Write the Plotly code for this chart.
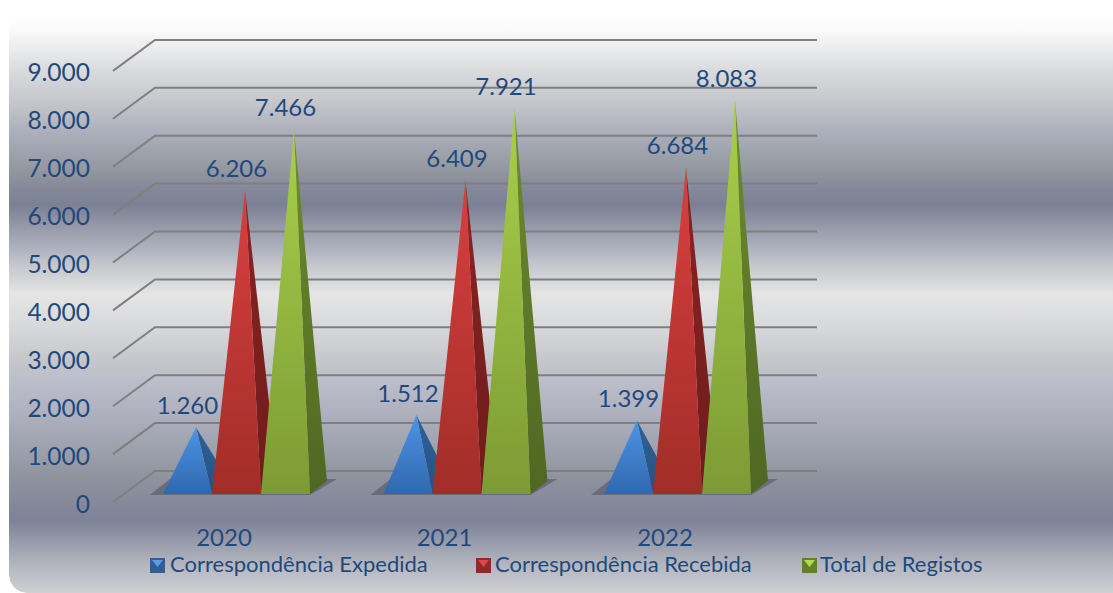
import plotly.graph_objects as go

# ---- data ----
years = ["2020", "2021", "2022"]
expedida = [1260, 1512, 1399]
recebida = [6206, 6409, 6684]
total = [7466, 7921, 8083]
series_names = ["Correspondência Expedida", "Correspondência Recebida", "Total de Registos"]
y_ticks = [0, 1000, 2000, 3000, 4000, 5000, 6000, 7000, 8000, 9000]

# ---- layout / projection constants (pixels) ----
W, H = 1113, 593
PX_CAT = 220.5      # px per category
PX_VAL = 0.0479     # px per unit of value
X0 = 236.5          # px of first group's centre
Y0 = 471            # px of value 0 on the back wall
BAR_W = 49
DEPTH_X, DEPTH_Y = 17, 13
BASE_Y = 494
FONT = "Lato"
TXT = "#1f497d"

def dx(p): return p / PX_CAT
def dv(p): return p / PX_VAL
def cx(p): return (p - X0) / PX_CAT   # pixel x -> axis value
def vy(p): return (Y0 - p) / PX_VAL   # pixel y -> axis value

styles = [
    dict(top="#4d94e6", bottom="#3068ae", side_top="#2f6299", side_bottom="#27507f", sw="#2f5f96", sw_l="#5c9ce0"),
    dict(top="#d8403f", bottom="#a22d28", side_top="#8a2422", side_bottom="#6e1c1b", sw="#8e2a28", sw_l="#e0474a"),
    dict(top="#a9d04a", bottom="#7c9b35", side_top="#6f8c2d", side_bottom="#4e6723", sw="#64802c", sw_l="#b4d84f"),
]

fig = go.Figure()

def poly(xs, ys, fill=None, grad=None, **kw):
    t = dict(x=xs + xs[:1], y=ys + ys[:1], mode="lines", fill="toself", line=dict(width=0),
             hoverinfo="skip", showlegend=False)
    if grad:
        lo, hi = min(ys), max(ys)
        t["fillgradient"] = dict(type="vertical", start=lo, stop=hi, colorscale=[[0, grad[0]], [1, grad[1]]])
    else:
        t["fillcolor"] = fill
    t.update(kw)
    fig.add_trace(go.Scatter(**t))

# ---- background: rounded panel with a double vertical gradient ----
bg_stops = [(593, "#d0d0d3"), (560, "#aeb1bb"), (521, "#7d8297"), (476, "#90949f"),
            (426, "#a9acb8"), (380, "#bcbfca"), (360, "#c6c7cb"), (330, "#d6d7da"), (294, "#e5e5e5"),
            (280, "#d5d6d9"), (260, "#bfc1c8"), (250, "#b0b3c0"), (230, "#9a9dab"),
            (205, "#7b8094"), (190, "#838899"), (170, "#93979f"), (130, "#aeb1bd"), (100, "#c7c8cc"),
            (70, "#dadbdd"), (30, "#fafafa"), (15, "#ffffff")]
R = 18
arc_a = [1.0, 0.92, 0.71, 0.38, 0.0]
arc_b = [0.0, 0.38, 0.71, 0.92, 1.0]
left, right, top, bot = 9, 1120, 15, 593
path = [(left + R * (1 - a), top + R * (1 - b)) for a, b in zip(arc_a, arc_b)]
path += [(right, top), (right, bot)]
path += [(left + R * (1 - a), bot - R * (1 - b)) for a, b in zip(arc_b, arc_a)]
ys_bg = [vy(p[1]) for p in path]
fig.add_trace(go.Scatter(
    x=[cx(p[0]) for p in path] + [cx(path[0][0])], y=ys_bg + ys_bg[:1],
    mode="lines", fill="toself", line=dict(width=0), hoverinfo="skip", showlegend=False,
    fillgradient=dict(type="vertical", start=vy(593), stop=vy(15),
                      colorscale=[[(593 - p) / 578, c] for p, c in bg_stops]),
))

# ---- gridlines on the back wall and side wall ----
gx, gy = [], []
for v in y_ticks:
    gx += [cx(113), cx(155), cx(817), None]
    gy += [v - dv(31), v, v, None]
fig.add_trace(go.Scatter(x=gx, y=gy, mode="lines", line=dict(color="#7f7f80", width=2),
                         hoverinfo="skip", showlegend=False))

# ---- floor shadow ----
for c in range(len(years)):
    xl = c - dx(BAR_W * 1.5)
    xr = c + dx(BAR_W * 1.5)
    poly([xl - dx(13), xr, xr + dx(27), xl + dx(7)],
         [vy(BASE_Y + 1), vy(BASE_Y + 1), vy(479), vy(479)], fill="rgba(60,60,72,0.42)")

# ---- pyramids ----
all_series = [expedida, recebida, total]
for s, values in enumerate(all_series):
    st = styles[s]
    for c, v in enumerate(values):
        xc = c + (s - 1) * dx(BAR_W)
        xl, xr = xc - dx(BAR_W / 2), xc + dx(BAR_W / 2)
        ya = v + vy(BASE_Y - DEPTH_Y / 2)
        xa = xc + dx(DEPTH_X / 2)
        yb = vy(BASE_Y)
        poly([xr, xr + dx(DEPTH_X), xa], [yb, yb + dv(DEPTH_Y), ya],
             grad=(st["side_bottom"], st["side_top"]))
        poly([xl, xr, xa], [yb, yb, ya], grad=(st["bottom"], st["top"]))

# ---- data labels ----
lx, ly, lt = [], [], []
for s, values in enumerate(all_series):
    for c, v in enumerate(values):
        lx.append(c + (s - 1) * dx(BAR_W))
        ly.append(v + vy(BASE_Y - DEPTH_Y / 2) + dv(19.5))
        lt.append(f"{v:,}".replace(",", "."))
fig.add_trace(go.Scatter(x=lx, y=ly, text=lt, mode="text", textposition="middle center",
                         textfont=dict(family=FONT, size=24, color=TXT),
                         hoverinfo="skip", showlegend=False))

# ---- legend: native entries, bevelled swatches ----
swatch_x = [150, 476, 802]
for s, name in enumerate(series_names):
    st = styles[s]
    fig.add_trace(go.Scatter(x=[None], y=[None], mode="markers", name=name,
                             marker=dict(symbol="square", size=14, color="rgba(0,0,0,0)")))
    a, b, t_, u = swatch_x[s], swatch_x[s] + 15, 558, 573
    poly([cx(a), cx(b), cx(b), cx(a)], [vy(u), vy(u), vy(t_), vy(t_)], fill=st["sw"])
    poly([cx(a + 2), cx(b - 2), cx((a + b) / 2)], [vy(t_ + 2), vy(t_ + 2), vy(t_ + 9)], fill=st["sw_l"])

# tick-label carrier on the front plane axes
fig.add_trace(go.Scatter(x=[0, 1, 2], y=[0, 0, 0], xaxis="x2", yaxis="y2", mode="markers",
                         marker=dict(opacity=0), hoverinfo="skip", showlegend=False))

tick_font = dict(family=FONT, size=24, color=TXT)
fig.update_layout(
    width=W, height=H, margin=dict(l=0, r=0, t=0, b=0, autoexpand=False),
    paper_bgcolor="white", plot_bgcolor="rgba(0,0,0,0)",
    separators=",.",
    hovermode=False,
    xaxis=dict(range=[cx(0), cx(W)], visible=False, fixedrange=True, domain=[0, 1]),
    yaxis=dict(range=[vy(H), vy(0)], visible=False, fixedrange=True, domain=[0, 1]),
    xaxis2=dict(overlaying="x", anchor="free", position=(H - 521) / H,
                range=[(0 - 224) / PX_CAT, (W - 224) / PX_CAT],
                tickvals=[0, 1, 2], ticktext=years, showgrid=False, zeroline=False,
                showline=False, ticks="", tickfont=tick_font, fixedrange=True),
    yaxis2=dict(overlaying="y", anchor="free", position=90 / W,
                range=[(504 - H) / PX_VAL, 504 / PX_VAL],
                tickvals=y_ticks, tickformat=",d", showgrid=False, zeroline=False,
                showline=False, ticks="", tickfont=dict(family=FONT, size=24.5, color=TXT),
                fixedrange=True),
    legend=dict(orientation="h", x=130 / W, xanchor="left", y=1 - 564 / H, yanchor="middle",
                entrywidth=280, entrywidthmode="pixels", bgcolor="rgba(0,0,0,0)",
                font=dict(family=FONT, size=22, color=TXT), traceorder="normal"),
)

fig.write_html("out.html", config=dict(displayModeBar=False),
               post_script="document.body.style.margin='0';document.body.style.overflow='hidden';")
